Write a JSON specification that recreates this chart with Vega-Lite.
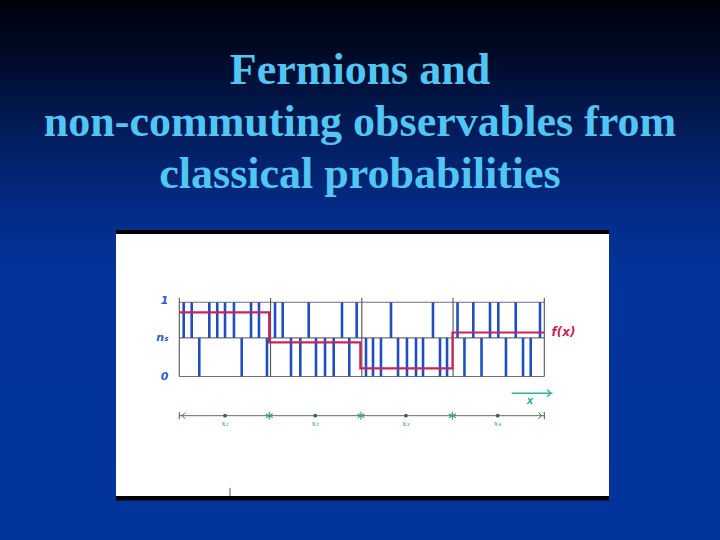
{
  "$schema": "https://vega.github.io/schema/vega-lite/v6.json",
  "width": 720,
  "height": 540,
  "autosize": {"type": "fit", "contains": "padding"},
  "padding": 0,
  "background": "#02236e",
  "title": {
    "text": ["Fermions and", "non-commuting observables from", "classical probabilities"],
    "anchor": "middle",
    "frame": "group",
    "orient": "top",
    "offset": -241,
    "baseline": "bottom",
    "font": "Liberation Serif",
    "fontSize": 44,
    "fontWeight": "bold",
    "color": "#52c6f2",
    "lineHeight": 52
  },
  "data": {"values": [{}]},
  "datasets": {
    "bars": [
      {"x": 0.048, "n": 1}, {"x": 0.136, "n": 1}, {"x": 0.329, "n": 1}, {"x": 0.416, "n": 1},
      {"x": 0.501, "n": 1}, {"x": 0.599, "n": 1}, {"x": 0.786, "n": 1}, {"x": 0.873, "n": 1},
      {"x": 1.049, "n": 1}, {"x": 1.133, "n": 1}, {"x": 1.418, "n": 1}, {"x": 1.783, "n": 1},
      {"x": 1.944, "n": 1}, {"x": 2.320, "n": 1}, {"x": 2.780, "n": 1}, {"x": 3.049, "n": 1},
      {"x": 3.222, "n": 1}, {"x": 3.405, "n": 1}, {"x": 3.496, "n": 1}, {"x": 3.687, "n": 1},
      {"x": 3.953, "n": 1},
      {"x": 0.219, "n": 0}, {"x": 0.684, "n": 0}, {"x": 0.961, "n": 0}, {"x": 1.224, "n": 0},
      {"x": 1.326, "n": 0}, {"x": 1.498, "n": 0}, {"x": 1.597, "n": 0}, {"x": 1.692, "n": 0},
      {"x": 1.863, "n": 0}, {"x": 2.046, "n": 0}, {"x": 2.123, "n": 0}, {"x": 2.210, "n": 0},
      {"x": 2.397, "n": 0}, {"x": 2.495, "n": 0}, {"x": 2.594, "n": 0}, {"x": 2.671, "n": 0},
      {"x": 2.857, "n": 0}, {"x": 2.934, "n": 0}, {"x": 3.125, "n": 0}, {"x": 3.312, "n": 0},
      {"x": 3.580, "n": 0}, {"x": 3.767, "n": 0}, {"x": 3.851, "n": 0}
    ],
    "f": [
      {"x": 0, "f": 0.865},
      {"x": 0.985, "f": 0.461},
      {"x": 1.984, "f": 0.11},
      {"x": 2.994, "f": 0.593},
      {"x": 4, "f": 0.593}
    ],
    "vlines": [{"x": 0}, {"x": 1}, {"x": 2}, {"x": 3}, {"x": 4}],
    "hlines": [{"y": 0}, {"y": 0.52}, {"y": 1}],
    "ylabels": [{"y": 1.02, "label": "1"}, {"y": 0.52, "label": "nₛ"}, {"y": 0, "label": "0"}],
    "cells": [
      {"x": 0.501, "label": "x₁"}, {"x": 1.49, "label": "x₂"},
      {"x": 2.484, "label": "x₃"}, {"x": 3.489, "label": "x₄"}
    ],
    "bounds": [{"x": 0.986}, {"x": 1.991}, {"x": 2.992}]
  },
  "encoding": {
    "x": {"type": "quantitative", "scale": {"domain": [-1.96493, 5.92548], "nice": false, "zero": false}, "axis": null},
    "y": {"type": "quantitative", "scale": {"domain": [-2.2035, 5.07412], "nice": false, "zero": false}, "axis": null}
  },
  "layer": [
    {
      "mark": {"type": "rect", "color": "#000000"},
      "encoding": {
        "x": {"datum": -0.694, "type": "quantitative"},
        "x2": {"datum": 4.709},
        "y": {"datum": 1.974, "type": "quantitative"},
        "y2": {"datum": -1.671}
      }
    },
    {
      "mark": {"type": "rect", "color": "#ffffff"},
      "encoding": {
        "x": {"datum": -0.694, "type": "quantitative"},
        "x2": {"datum": 4.709},
        "y": {"datum": 1.92, "type": "quantitative"},
        "y2": {"datum": -1.61}
      }
    },
    {
      "data": {"name": "hlines"},
      "mark": {"type": "rule", "color": "#707070", "strokeWidth": 1.1},
      "encoding": {
        "x": {"datum": 0, "type": "quantitative"},
        "x2": {"datum": 4},
        "y": {"field": "y", "type": "quantitative"}
      }
    },
    {
      "data": {"name": "vlines"},
      "mark": {"type": "rule", "color": "#555555", "strokeWidth": 1.1},
      "encoding": {
        "x": {"field": "x", "type": "quantitative"},
        "y": {"datum": 0, "type": "quantitative"},
        "y2": {"datum": 1.06}
      }
    },
    {
      "data": {"name": "bars"},
      "transform": [{"filter": "datum.n == 1"}],
      "mark": {"type": "rule", "color": "#1f4fbf", "strokeWidth": 2.6},
      "encoding": {
        "x": {"field": "x", "type": "quantitative"},
        "y": {"datum": 0.52, "type": "quantitative"},
        "y2": {"datum": 1}
      }
    },
    {
      "data": {"name": "bars"},
      "transform": [{"filter": "datum.n == 0"}],
      "mark": {"type": "rule", "color": "#1f4fbf", "strokeWidth": 2.6},
      "encoding": {
        "x": {"field": "x", "type": "quantitative"},
        "y": {"datum": 0, "type": "quantitative"},
        "y2": {"datum": 0.52}
      }
    },
    {
      "data": {"name": "f"},
      "mark": {"type": "line", "color": "#c8245a", "strokeWidth": 2.2, "interpolate": "step-after"},
      "encoding": {
        "x": {"field": "x", "type": "quantitative"},
        "y": {"field": "f", "type": "quantitative"}
      }
    },
    {
      "mark": {"type": "text", "text": "f(x)", "align": "left", "baseline": "middle", "font": "DejaVu Sans", "fontStyle": "italic", "fontWeight": "bold", "fontSize": 12, "color": "#c8245a"},
      "encoding": {
        "x": {"datum": 4.08, "type": "quantitative"},
        "y": {"datum": 0.6, "type": "quantitative"}
      }
    },
    {
      "data": {"name": "ylabels"},
      "mark": {"type": "text", "align": "right", "baseline": "middle", "font": "DejaVu Sans", "fontStyle": "italic", "fontWeight": "bold", "fontSize": 11, "color": "#2a5cc8"},
      "encoding": {
        "x": {"datum": -0.12, "type": "quantitative"},
        "y": {"field": "y", "type": "quantitative"},
        "text": {"field": "label"}
      }
    },
    {
      "mark": {"type": "rule", "color": "#6a6a6a", "strokeWidth": 1},
      "encoding": {
        "x": {"datum": 0, "type": "quantitative"},
        "x2": {"datum": 4},
        "y": {"datum": -0.528, "type": "quantitative"}
      }
    },
    {
      "data": {"name": "vlines"},
      "transform": [{"filter": "datum.x == 0 || datum.x == 4"}],
      "mark": {"type": "rule", "color": "#2f5f55", "strokeWidth": 1},
      "encoding": {
        "x": {"field": "x", "type": "quantitative"},
        "y": {"datum": -0.48, "type": "quantitative"},
        "y2": {"datum": -0.576}
      }
    },
    {
      "mark": {"type": "point", "shape": "M1,-1L0,0L1,1", "filled": false, "size": 36, "color": "#2f5f55", "strokeWidth": 1, "opacity": 1},
      "encoding": {
        "x": {"datum": 0.03, "type": "quantitative"},
        "y": {"datum": -0.528, "type": "quantitative"}
      }
    },
    {
      "mark": {"type": "point", "shape": "M-1,-1L0,0L-1,1", "filled": false, "size": 36, "color": "#2f5f55", "strokeWidth": 1, "opacity": 1},
      "encoding": {
        "x": {"datum": 3.97, "type": "quantitative"},
        "y": {"datum": -0.528, "type": "quantitative"}
      }
    },
    {
      "data": {"name": "bounds"},
      "mark": {"type": "point", "shape": "M0,-1L0,1M-0.87,-0.5L0.87,0.5M-0.87,0.5L0.87,-0.5", "filled": false, "size": 64, "color": "#3a9c84", "strokeWidth": 1.1, "opacity": 1},
      "encoding": {
        "x": {"field": "x", "type": "quantitative"},
        "y": {"datum": -0.528, "type": "quantitative"}
      }
    },
    {
      "data": {"name": "cells"},
      "mark": {"type": "point", "shape": "circle", "filled": true, "size": 14, "color": "#2a6a5a", "opacity": 1},
      "encoding": {
        "x": {"field": "x", "type": "quantitative"},
        "y": {"datum": -0.528, "type": "quantitative"}
      }
    },
    {
      "data": {"name": "cells"},
      "mark": {"type": "text", "align": "center", "baseline": "middle", "font": "DejaVu Serif", "fontStyle": "italic", "fontSize": 8, "color": "#48a890"},
      "encoding": {
        "x": {"field": "x", "type": "quantitative"},
        "y": {"datum": -0.64, "type": "quantitative"},
        "text": {"field": "label"}
      }
    },
    {
      "mark": {"type": "rule", "color": "#30b0a0", "strokeWidth": 1.3},
      "encoding": {
        "x": {"datum": 3.643, "type": "quantitative"},
        "x2": {"datum": 4.09},
        "y": {"datum": -0.226, "type": "quantitative"}
      }
    },
    {
      "mark": {"type": "point", "shape": "M-1,-1L0,0L-1,1", "filled": false, "size": 49, "color": "#30b0a0", "strokeWidth": 1.3, "opacity": 1},
      "encoding": {
        "x": {"datum": 4.07, "type": "quantitative"},
        "y": {"datum": -0.226, "type": "quantitative"}
      }
    },
    {
      "mark": {"type": "text", "text": "x", "align": "center", "baseline": "middle", "font": "DejaVu Sans", "fontStyle": "italic", "fontWeight": "bold", "fontSize": 10, "color": "#30b0a0"},
      "encoding": {
        "x": {"datum": 3.843, "type": "quantitative"},
        "y": {"datum": -0.33, "type": "quantitative"}
      }
    },
    {
      "mark": {"type": "rule", "color": "#555555", "strokeWidth": 1},
      "encoding": {
        "x": {"datum": 0.556, "type": "quantitative"},
        "y": {"datum": -1.5, "type": "quantitative"},
        "y2": {"datum": -1.61}
      }
    }
  ],
  "config": {
    "view": {
      "stroke": null,
      "fill": {
        "gradient": "linear",
        "x1": 0, "y1": 0, "x2": 0, "y2": 1,
        "stops": [
          {"offset": 0, "color": "#000008"},
          {"offset": 0.1, "color": "#000a26"},
          {"offset": 0.25, "color": "#021d5e"},
          {"offset": 0.4, "color": "#032c88"},
          {"offset": 0.5, "color": "#03339a"},
          {"offset": 1, "color": "#02349c"}
        ]
      }
    }
  }
}
